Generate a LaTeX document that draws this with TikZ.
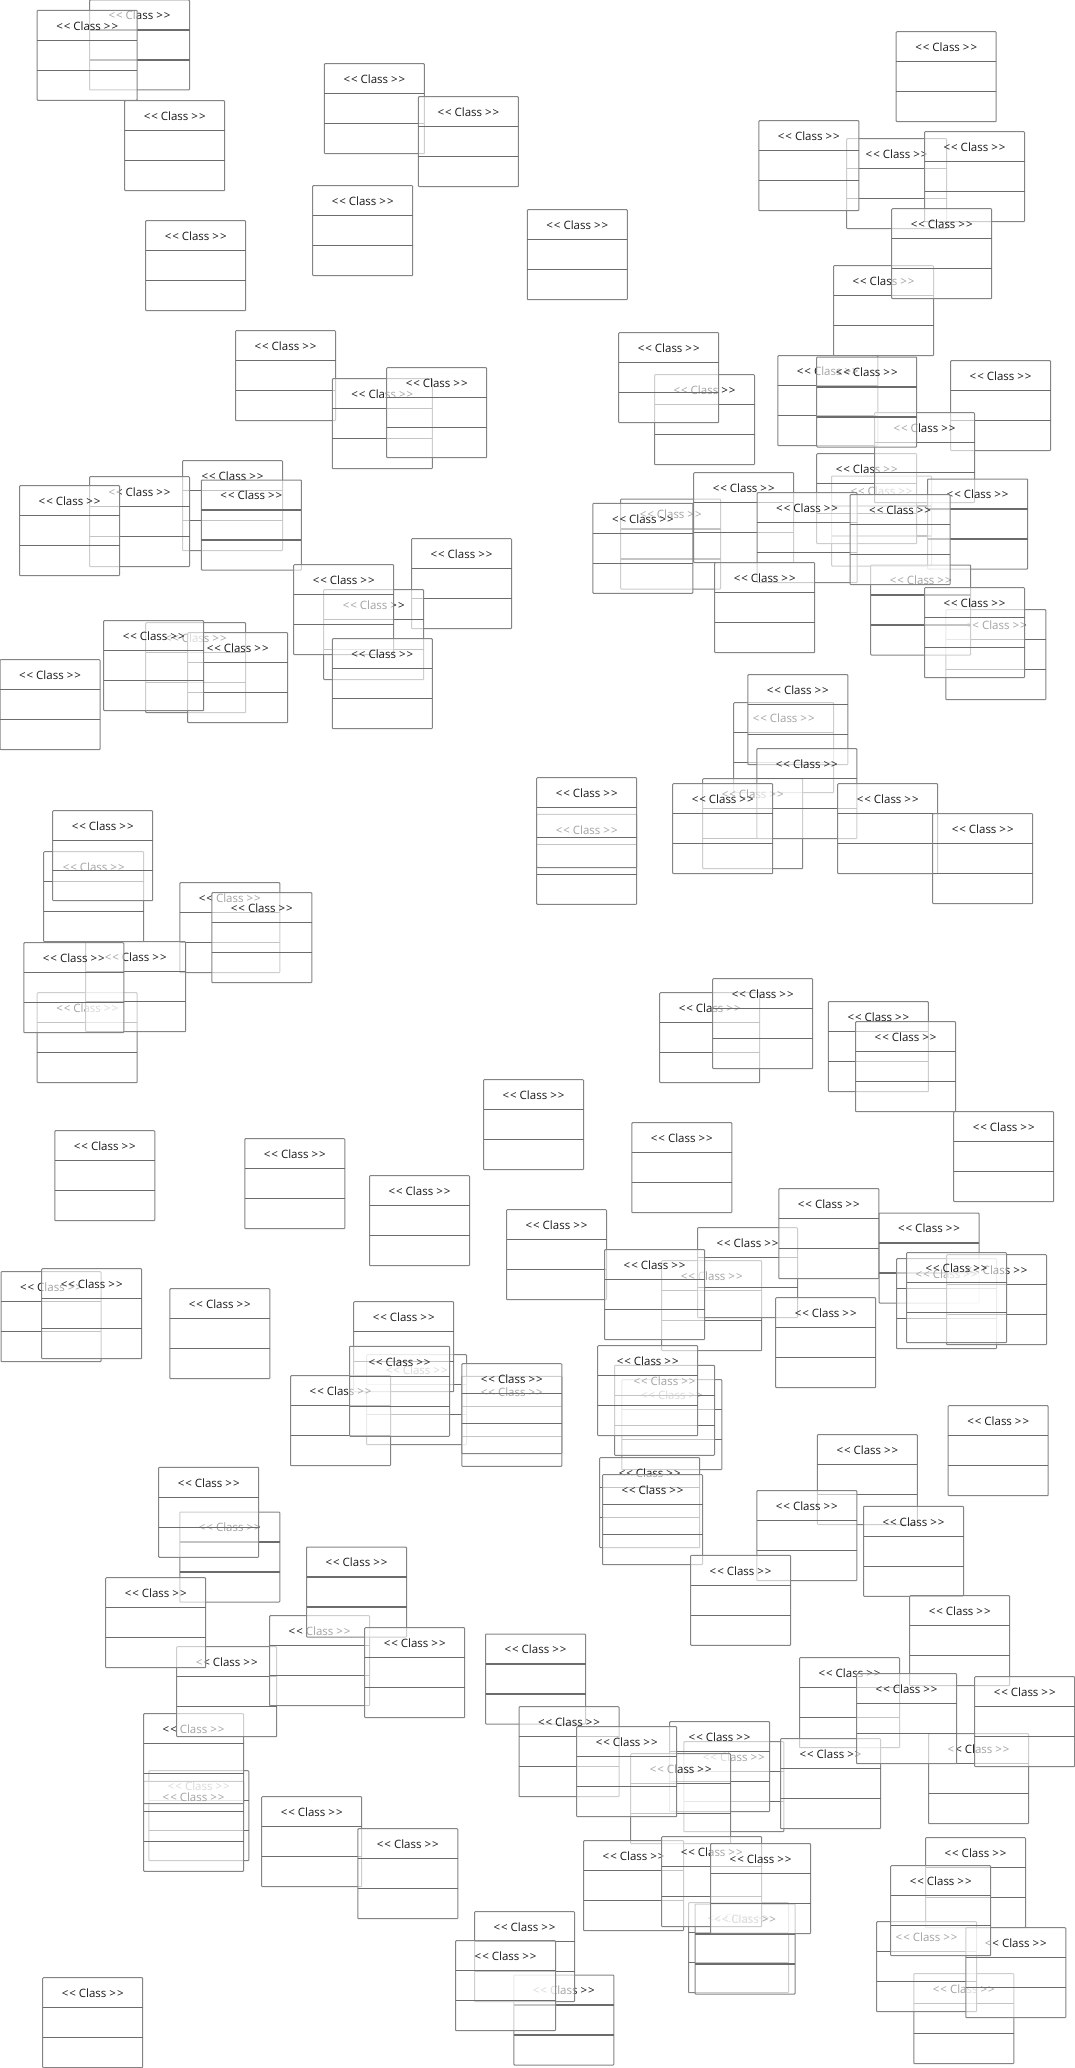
\documentclass[tikz,border=0pt]{standalone}
\usepackage{fontspec}
\newfontfamily\classfont{Open Sans}
\definecolor{boxframe}{RGB}{132,132,132}
\definecolor{boxrule}{RGB}{108,108,108}
\tikzset{%
	classbox/.style={shape=rectangle,anchor=north west,inner sep=0pt,outer sep=0pt,minimum width=100pt,minimum height=90pt,draw=boxframe,line width=1pt,fill=white,fill opacity=0.6,draw opacity=1,rounded corners=0.8pt},
	compartment/.style={draw=boxrule,line width=1.2pt},
	stereotype/.style={inner sep=0pt,font=\classfont\fontsize{11.5}{12}\selectfont,text=black!90},
}
\newcommand{\umlclass}[3]{%
	\node[classbox] (#1) at (#2,#3) {};
	\draw[compartment] ([yshift=-30pt]#1.north west) -- ([yshift=-30pt]#1.north east);
	\draw[compartment] ([yshift=-60pt]#1.north west) -- ([yshift=-60pt]#1.north east);
	\node[stereotype] (#1-name) at ([yshift=-15.5pt]#1.north) {<\kern1pt< Class >\kern1pt>};
}

\begin{document}
\begin{tikzpicture}[x=1pt,y=-1pt]
	\path[use as bounding box,fill=white] (0,0) rectangle (1075,2068);
	% top band
	\umlclass{class1}{89.5}{0}
	\umlclass{class2}{37.2}{10.3}
	\umlclass{class3}{124.7}{100.7}
	\umlclass{class4}{324.4}{63.7}
	\umlclass{class5}{418.4}{96.7}
	\umlclass{class6}{312.7}{185.7}
	\umlclass{class7}{145.7}{220.7}
	\umlclass{class8}{235.5}{330.7}
	\umlclass{class9}{332.3}{378.7}
	\umlclass{class10}{386.7}{367.7}
	\umlclass{class11}{182.5}{460.7}
	\umlclass{class12}{201.4}{480}
	\umlclass{class13}{89.5}{476.7}
	\umlclass{class14}{19.6}{485.7}
	\umlclass{class15}{411.5}{538.7}
	\umlclass{class16}{323.7}{589.7}
	\umlclass{class17}{293.7}{564.7}
	\umlclass{class18}{332.3}{638.7}
	\umlclass{class19}{145.7}{622.7}
	\umlclass{class20}{187.7}{632.7}
	\umlclass{class21}{103.7}{620.7}
	\umlclass{class22}{0}{659.7}
	\umlclass{class23}{527.3}{209.7}
	\umlclass{class24}{896.2}{31.7}
	\umlclass{class25}{846.6}{138.7}
	\umlclass{class26}{758.8}{120.7}
	\umlclass{class27}{924.5}{131.7}
	\umlclass{class28}{833.5}{265.7}
	\umlclass{class29}{891.7}{208.7}
	\umlclass{class30}{654.5}{374.7}
	\umlclass{class31}{618.7}{332.7}
	\umlclass{class32}{777.8}{355.7}
	\umlclass{class33}{950.6}{360.7}
	\umlclass{class34}{831.5}{476}
	\umlclass{class35}{816.7}{453.7}
	\umlclass{class36}{874.5}{412.7}
	\umlclass{class37}{816.7}{357}
	\umlclass{class38}{620.7}{499}
	\umlclass{class39}{592.9}{503.3}
	\umlclass{class40}{693.7}{472.7}
	\umlclass{class41}{757.1}{492.7}
	\umlclass{class42}{714.7}{562.7}
	\umlclass{class43}{927.6}{479}
	\umlclass{class44}{945.8}{609.7}
	\umlclass{class45}{870.7}{565}
	\umlclass{class46}{850.1}{494.7}
	\umlclass{class47}{924.5}{587.7}
	% middle band
	\umlclass{class48}{733.7}{702.7}
	\umlclass{class49}{702.7}{778.7}
	\umlclass{class50}{747.8}{674.7}
	\umlclass{class51}{756.8}{748.7}
	\umlclass{class52}{672.7}{783.7}
	\umlclass{class53}{837.7}{783.7}
	\umlclass{class54}{932.7}{813.7}
	\umlclass{class55}{536.7}{814.3}
	\umlclass{class56}{536.7}{777.7}
	\umlclass{class57}{43.7}{851.7}
	\umlclass{class58}{52.7}{810.7}
	\umlclass{class59}{179.8}{882.7}
	\umlclass{class60}{211.8}{892.7}
	\umlclass{class61}{37.2}{992.7}
	\umlclass{class62}{85.7}{941.7}
	\umlclass{class63}{23.8}{942.7}
	\umlclass{class64}{659.7}{992.7}
	\umlclass{class65}{712.7}{978.7}
	\umlclass{class66}{828.4}{1001.7}
	\umlclass{class67}{855.6}{1021.7}
	\umlclass{class68}{54.8}{1130.7}
	\umlclass{class69}{244.8}{1138.7}
	\umlclass{class70}{369.5}{1175.7}
	\umlclass{class71}{483.5}{1079.7}
	\umlclass{class72}{506.5}{1209.7}
	\umlclass{class73}{631.8}{1122.7}
	\umlclass{class74}{953.7}{1111.7}
	\umlclass{class75}{1}{1271.7}
	\umlclass{class76}{41.7}{1268.7}
	\umlclass{class77}{169.8}{1288.7}
	\umlclass{class78}{366.7}{1354.7}
	\umlclass{class79}{353.7}{1301.7}
	\umlclass{class80}{290.6}{1375.7}
	\umlclass{class81}{349.5}{1346.3}
	\umlclass{class82}{461.8}{1376.3}
	\umlclass{class83}{461.8}{1363.7}
	\umlclass{class84}{661.7}{1260.7}
	\umlclass{class85}{697.5}{1227.7}
	\umlclass{class86}{778.8}{1188.7}
	\umlclass{class87}{604.6}{1249.7}
	\umlclass{class88}{775.7}{1297.7}
	\umlclass{class89}{879}{1213}
	\umlclass{class90}{896.6}{1258.7}
	\umlclass{class91}{946.5}{1254.7}
	\umlclass{class92}{906.5}{1252.7}
	\umlclass{class93}{621.8}{1379.7}
	\umlclass{class94}{614.5}{1365.3}
	\umlclass{class95}{597.7}{1345.7}
	\umlclass{class96}{599.7}{1457.7}
	\umlclass{class97}{602.5}{1474.7}
	\umlclass{class98}{948.2}{1405.7}
	\umlclass{class99}{817.4}{1434.7}
	\umlclass{class100}{756.8}{1490.7}
	\umlclass{class101}{863.5}{1506.3}
	% bottom band
	\umlclass{class102}{179.8}{1512}
	\umlclass{class103}{158.7}{1467.3}
	\umlclass{class104}{148.8}{1770.7}
	\umlclass{class105}{143.6}{1781.3}
	\umlclass{class106}{143.6}{1713.7}
	\umlclass{class107}{176.7}{1646.7}
	\umlclass{class108}{105.7}{1577.7}
	\umlclass{class109}{269.6}{1615.7}
	\umlclass{class110}{306.5}{1547}
	\umlclass{class111}{364.7}{1627.7}
	\umlclass{class112}{261.7}{1796.7}
	\umlclass{class113}{357.8}{1828.7}
	\umlclass{class114}{485.5}{1634}
	\umlclass{class115}{683.8}{1741.7}
	\umlclass{class116}{669.6}{1721.7}
	\umlclass{class117}{519}{1706.7}
	\umlclass{class118}{630.7}{1753.7}
	\umlclass{class119}{576.7}{1726.7}
	\umlclass{class120}{690.6}{1555.3}
	\umlclass{class121}{799.5}{1657.7}
	\umlclass{class122}{780.5}{1738.7}
	\umlclass{class123}{928.6}{1733.7}
	\umlclass{class124}{909.7}{1595.7}
	\umlclass{class125}{856.6}{1673.7}
	\umlclass{class126}{974.7}{1676.7}
	\umlclass{class127}{688.6}{1902.7}
	\umlclass{class128}{695.1}{1904}
	\umlclass{class129}{583.6}{1840.7}
	\umlclass{class130}{661.7}{1836.7}
	\umlclass{class131}{710.6}{1843.7}
	\umlclass{class132}{925.5}{1837.7}
	\umlclass{class133}{913.8}{1973.7}
	\umlclass{class134}{876.6}{1921.7}
	\umlclass{class135}{965.8}{1927.7}
	\umlclass{class136}{890.7}{1865.7}
	\umlclass{class137}{513.8}{1975}
	\umlclass{class138}{474.5}{1911.7}
	\umlclass{class139}{455.6}{1940.7}
	\umlclass{class140}{42.7}{1977.7}
\end{tikzpicture}
\end{document}
